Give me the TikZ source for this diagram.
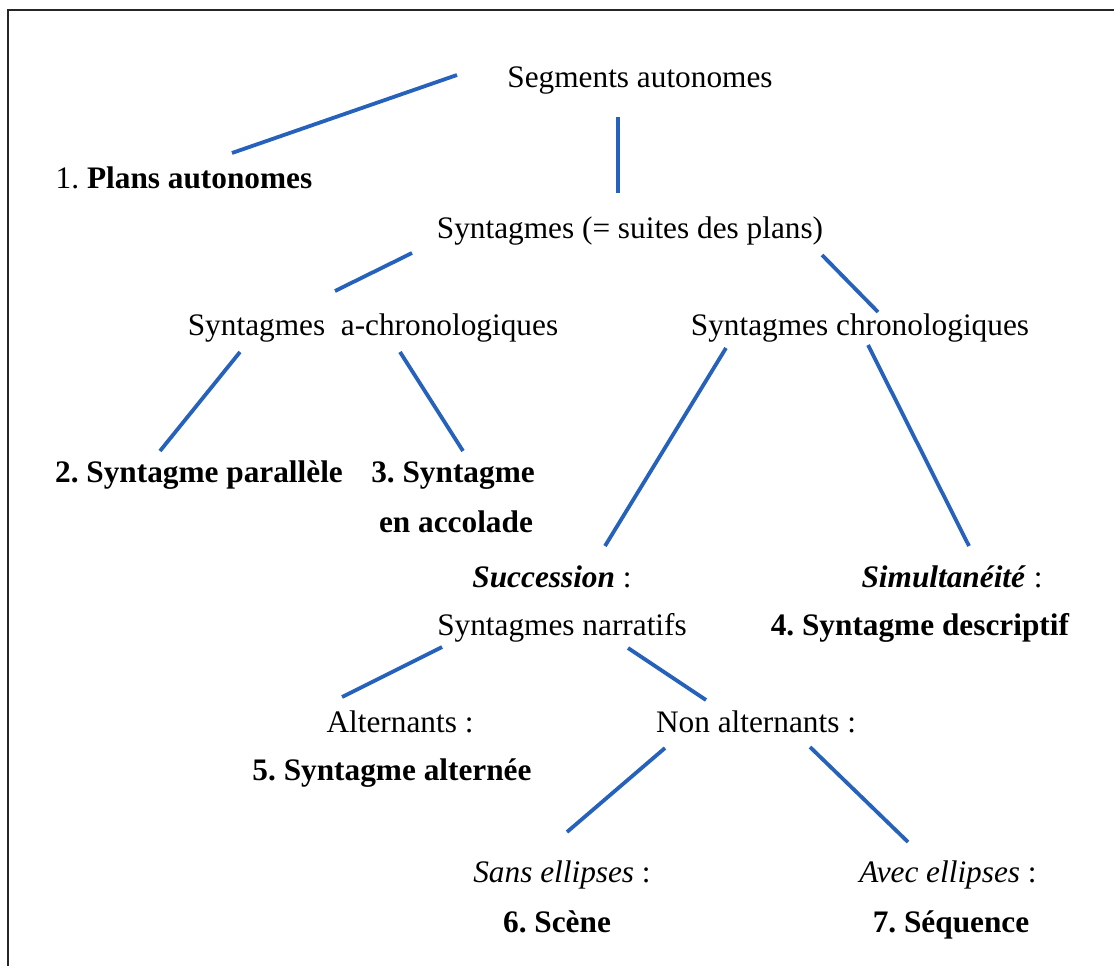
\documentclass[tikz,border=0pt]{standalone}
\usepackage{fontspec}
\setmainfont{Liberation Serif}
\usetikzlibrary{calc}
\definecolor{lineblue}{RGB}{38,98,188}
\tikzset{
  lbl/.style={inner sep=0pt, anchor=base, font=\fontsize{31.3}{36}\selectfont\frenchspacing},
  link/.style={line width=3.8pt, draw=lineblue},
  frame/.style={line width=2.2pt, draw=black!85}
}
\begin{document}
\begin{tikzpicture}[x=1pt,y=-1pt]
\useasboundingbox (0,0) rectangle (1114,966);
\fill[white] (0,0) rectangle (1114,966);
\draw[frame] (1114,10) -- (8,10) -- (8,966);

\node[lbl] (seg) at (640,88) {Segments autonomes};
\node[lbl] (plans) at (184,188) {1. \textbf{Plans autonomes}};
\node[lbl] (synt) at (630,238) {Syntagmes (= suites des plans)};
\node[lbl] (achr) at (373,335) {Syntagmes\ \ a-chronologiques};
\node[lbl] (chr) at (860,335) {Syntagmes chronologiques};
\node[lbl] (par) at (199,482) {\textbf{2. Syntagme parallèle}};
\node[lbl] (acc1) at (453,482) {\textbf{3. Syntagme}};
\node[lbl] (acc2) at (456,532) {\textbf{en accolade}};
\node[lbl] (succ) at (552,587) {\textbf{\textit{Succession}} :};
\node[lbl] (simu) at (952,587) {\textbf{\textit{Simultanéité}} :};
\node[lbl] (narr) at (562,635) {Syntagmes narratifs};
\node[lbl] (desc) at (920,635) {\textbf{4. Syntagme descriptif}};
\node[lbl] (alt) at (400,732) {Alternants :};
\node[lbl] (nonalt) at (756,732) {Non alternants :};
\node[lbl] (altn) at (392,780) {\textbf{5. Syntagme alternée}};
\node[lbl] (sans) at (562,882) {\textit{Sans ellipses} :};
\node[lbl] (avec) at (948,882) {\textit{Avec ellipses} :};
\node[lbl] (scene) at (557,932) {\textbf{6. Scène}};
\node[lbl] (seq) at (951,932) {\textbf{7. Séquence}};

\draw[link] ($(seg.base)+(-183,-13)$) -- ($(plans.base)+(48,-35)$);
\draw[link] ($(seg.base)+(-22,29)$) -- ($(synt.base)+(-12,-45)$);
\draw[link] ($(synt.base)+(-218,15)$) -- ($(achr.base)+(-38,-44)$);
\draw[link] ($(synt.base)+(192,17)$) -- ($(chr.base)+(18,-23)$);
\draw[link] ($(achr.base)+(-133,17)$) -- ($(par.base)+(-39,-31)$);
\draw[link] ($(achr.base)+(27,17)$) -- ($(acc1.base)+(10,-31)$);
\draw[link] ($(chr.base)+(-134,13)$) -- ($(succ.base)+(53,-41)$);
\draw[link] ($(chr.base)+(8,10)$) -- ($(simu.base)+(17,-41)$);
\draw[link] ($(narr.base)+(-120,12)$) -- ($(alt.base)+(-58,-35)$);
\draw[link] ($(narr.base)+(66,13)$) -- ($(nonalt.base)+(-50,-32)$);
\draw[link] ($(nonalt.base)+(-91,16)$) -- ($(sans.base)+(5,-50)$);
\draw[link] ($(nonalt.base)+(54,15)$) -- ($(avec.base)+(-40,-40)$);
\end{tikzpicture}
\end{document}
